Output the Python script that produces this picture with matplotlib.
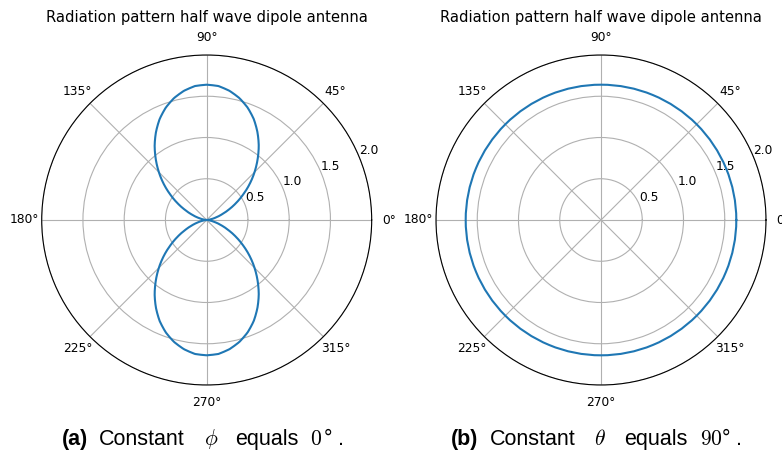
import numpy as np
import matplotlib
matplotlib.use("Agg")
import matplotlib.pyplot as plt

# ---- data ----
# (a) constant phi = 0 deg: pattern radius vs. angle (degrees)
angles_a = list(range(0, 365, 5))
radius_a = [0.00, 0.01, 0.05, 0.11, 0.19, 0.29, 0.41, 0.54, 0.68, 0.82,
            0.96, 1.10, 1.23, 1.35, 1.45, 1.53, 1.59, 1.63, 1.64,
            1.63, 1.59, 1.53, 1.45, 1.35, 1.23, 1.10, 0.96, 0.82,
            0.68, 0.54, 0.41, 0.29, 0.19, 0.11, 0.05, 0.01, 0.00,
            0.01, 0.05, 0.11, 0.19, 0.29, 0.41, 0.54, 0.68, 0.82,
            0.96, 1.10, 1.23, 1.35, 1.45, 1.53, 1.59, 1.63, 1.64,
            1.63, 1.59, 1.53, 1.45, 1.35, 1.23, 1.10, 0.96, 0.82,
            0.68, 0.54, 0.41, 0.29, 0.19, 0.11, 0.05, 0.01, 0.00]
# (b) constant theta = 90 deg
angles_b = [0, 45, 90, 135, 180, 225, 270, 315, 360]
radius_b = [1.64, 1.64, 1.64, 1.64, 1.64, 1.64, 1.64, 1.64, 1.64]

r_ticks = [0.5, 1.0, 1.5, 2.0]
title = "Radiation pattern half wave dipole antenna"
# caption pieces: (text, left x in px, bold?)
caption_a = [("(a)", 61.5, True), ("Constant", 99, False), (r"$\phi$", 204, False),
             ("equals", 235, False), (r"$0$", 310.5, False), ("°", 323.5, False),
             (".", 338, False)]
caption_b = [("(b)", 450.5, True), ("Constant", 490, False), (r"$\theta$", 594.5, False),
             ("equals", 624, False), (r"$90$", 699.5, False), ("°", 722, False),
             (".", 736, False)]

plt.rcParams["mathtext.fontset"] = "cm"

W, H = 782, 455
fig = plt.figure(figsize=(W / 100, H / 100), dpi=100)

R = 165
centers = [(206.7, 220), (601, 220)]
data = [(angles_a, radius_a), (angles_b, radius_b)]

for (cx, cy), (ang, rad) in zip(centers, data):
    ax = fig.add_axes([(cx - R) / W, (H - cy - R) / H, 2 * R / W, 2 * R / H],
                      projection="polar")
    line, = ax.plot(np.deg2rad(ang), rad, color="#1f77b4", linewidth=1.5)
    line.get_path()._interpolation_steps = 60
    ax.set_ylim(0, 2.0)
    ax.set_yticks(r_ticks)
    ax.tick_params(labelsize=8.8)
    ax.tick_params(axis="x", pad=2)
    ax.grid(True, color="#b0b0b0", linewidth=0.8)
    ax.set_title(title, fontsize=10.6, y=1.1, pad=0)

for pieces in (caption_a, caption_b):
    for txt, x, bold in pieces:
        fig.text(x / W, 10 / H, txt, fontsize=15.5,
                 fontweight="bold" if bold else "normal",
                 family="Liberation Sans", va="baseline", ha="left")

fig.savefig("out.png", dpi=100)
